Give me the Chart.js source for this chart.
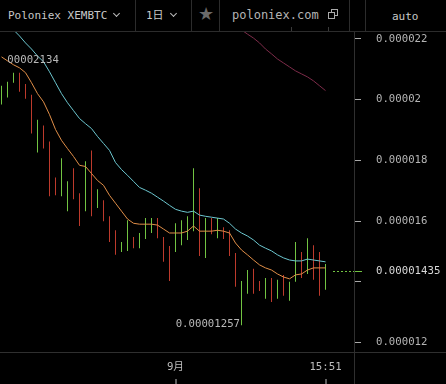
<!DOCTYPE html>
<html>
<head>
<meta charset="utf-8">
<script src="https://cdn.jsdelivr.net/npm/chart.js@4.4.1/dist/chart.umd.min.js"></script>
<style>
  html, body { margin:0; padding:0; background:#000; }
  #wrap { position:relative; width:446px; height:384px; overflow:hidden; background:#000; }
  canvas { position:absolute; left:0; top:0; }
  .tb { position:absolute; left:0; top:0; width:446px; height:31px; border-bottom:1px solid #2c2c2c; background:#000; }
  .sep { position:absolute; top:0; width:1px; height:31px; background:#2c2c2c; }
  .t { position:absolute; font-family:"DejaVu Sans Mono","Noto Sans CJK SC",monospace; white-space:nowrap; line-height:1; }
  .chev { position:absolute; width:4px; height:4px; border-right:1.3px solid #bbb; border-bottom:1.3px solid #bbb; transform:rotate(45deg); }
  .stub { position:absolute; top:27px; width:1px; height:4px; background:#3a3a3a; }
</style>
</head>
<body>
<div id="wrap">
  <canvas id="c" width="446" height="384"></canvas>
  <div class="tb">
    <div class="t" style="left:8px;top:10px;font-size:11px;color:#c8c8c8;">Poloniex XEMBTC</div>
    <div class="chev" style="left:114px;top:11px;"></div>
    <div class="sep" style="left:135px;"></div>
    <div class="t" style="left:146px;top:10px;font-size:11px;color:#c8c8c8;">1日</div>
    <div class="chev" style="left:171px;top:11px;"></div>
    <div class="sep" style="left:191px;"></div>
    <div class="t" style="left:198px;top:5px;font-size:18px;color:#6a6a6a;font-family:'DejaVu Sans',sans-serif;">★</div>
    <div class="sep" style="left:219px;"></div>
    <div class="t" style="left:232px;top:9px;font-size:12px;color:#b4b4b4;">poloniex.com</div>
    <div style="position:absolute;left:331px;top:9px;width:5px;height:5px;border:1px solid #aaa;"></div>
    <div style="position:absolute;left:328px;top:12px;width:5px;height:5px;border:1px solid #aaa;background:#000;"></div>
    <div class="sep" style="left:349px;"></div>
    <div class="sep" style="left:365px;"></div>
    <div class="t" style="left:392px;top:11px;font-size:11px;color:#c8c8c8;">auto</div>
    <div class="stub" style="left:291px;"></div>
    <div class="stub" style="left:328px;"></div>
  </div>
</div>
<script>
// prices in satoshi (1e-8 BTC), one daily bar per entry
const barHighs = [2046,2059,2089,2089,2052,2016,1934,1915,1862,1744,1807,1731,1774,1692,1797,1833,1705,1669,1616,1570,1531,1603,1548,1561,1610,1610,1610,1548,1518,1593,1603,1616,1774,1708,1610,1610,1610,1580,1570,1495,1403,1439,1443,1403,1413,1413,1407,1423,1400,1531,1498,1544,1521,1498,1459];
const barLows  = [1984,2007,2056,2026,2003,1889,1826,1839,1682,1685,1682,1633,1672,1584,1633,1616,1643,1600,1531,1489,1498,1502,1511,1511,1541,1561,1544,1466,1403,1498,1521,1538,1567,1485,1479,1557,1544,1541,1485,1384,1257,1361,1361,1370,1344,1334,1344,1354,1338,1400,1413,1426,1407,1354,1374];
const barUp    = [1,1,1,0,0,0,1,0,0,0,1,1,0,0,1,0,1,0,0,0,1,1,0,1,1,1,0,0,0,1,1,1,1,0,1,0,1,0,0,0,1,1,0,0,1,0,1,0,1,1,0,1,0,0,1];
const maSlow   = [2272,2249,2230,2210,2187,2167,2144,2125,2092,2056,2020,1990,1964,1938,1921,1905,1879,1856,1833,1793,1770,1751,1731,1711,1702,1692,1679,1666,1652,1639,1633,1629,1633,1620,1616,1613,1610,1607,1593,1574,1561,1551,1538,1521,1511,1502,1489,1479,1472,1469,1469,1475,1472,1469,1466];
const maFast   = [2141,2128,2115,2105,2089,2056,2020,1993,1951,1902,1866,1839,1813,1784,1780,1757,1734,1718,1685,1659,1633,1607,1593,1590,1590,1590,1587,1574,1561,1561,1561,1567,1584,1567,1567,1567,1570,1567,1561,1528,1505,1489,1472,1456,1446,1439,1426,1416,1410,1423,1426,1439,1446,1446,1446];
const maLong   = [null,null,null,null,null,null,null,null,null,null,null,null,null,null,null,null,null,null,null,null,null,null,null,null,null,null,null,null,null,null,null,null,null,null,null,null,null,null,null,null,2230,2216,2203,2187,2167,2151,2134,2121,2108,2095,2085,2075,2062,2046,2030];
const priceTicks = [1200,1400,1600,1800,2000,2200];
const priceTickLabels = ['0.000012','','0.000016','0.000018','0.00002','0.000022'];
const timeTickIndex = [29,54];
const timeTickLabels = ['9月','15:51'];
const lastPrice = 1435;
const lastPriceLabel = '0.00001435';
const highMark = 2134, highMarkLabel = '0.00002134', highMarkIndex = -1;
const lowMark = 1257, lowMarkLabel = '0.00001257', lowMarkIndex = 40;

const GREEN = '#72c442', RED = '#bd3a2c';
const FONT = '"DejaVu Sans Mono","Noto Sans CJK SC",monospace';

const idx = barHighs.map((_, i) => i);

const overlay = {
  id: 'overlay',
  afterDraw(chart) {
    const ctx = chart.ctx, ca = chart.chartArea;
    const xs = chart.scales.x, ys = chart.scales.y;
    ctx.save();
    ctx.strokeStyle = '#2f2f2f';
    ctx.lineWidth = 1;
    ctx.beginPath();
    ctx.moveTo(ca.right + 0.5, 31); ctx.lineTo(ca.right + 0.5, 384);
    ctx.moveTo(0, ca.bottom + 0.5); ctx.lineTo(446, ca.bottom + 0.5);
    ctx.stroke();
    // time tick marks at bottom
    ctx.strokeStyle = '#bbbbbb';
    ctx.beginPath();
    timeTickIndex.forEach(v => {
      const px = Math.round(xs.getPixelForValue(v)) - 0.5;
      ctx.moveTo(px + 0.5, 379); ctx.lineTo(px + 0.5, 384);
    });
    ctx.stroke();
    // last price line
    const ly = Math.round(ys.getPixelForValue(lastPrice)) + 0.5;
    ctx.strokeStyle = GREEN;
    ctx.setLineDash([2, 2]);
    ctx.beginPath();
    ctx.moveTo(ca.right - 21, ly); ctx.lineTo(ca.right, ly);
    ctx.stroke();
    ctx.setLineDash([]);
    ctx.beginPath();
    ctx.moveTo(ca.right + 1, ly); ctx.lineTo(ca.right + 8, ly);
    ctx.stroke();
    ctx.font = '10.7px ' + FONT;
    ctx.fillStyle = '#d8d8d8';
    ctx.textBaseline = 'middle';
    ctx.textAlign = 'left';
    ctx.fillText(lastPriceLabel, ca.right + 22, ly);
    // high / low marks
    ctx.fillStyle = '#b8b8b8';
    ctx.save();
    ctx.beginPath(); ctx.rect(7, ca.top, ca.right - 7, ca.bottom - ca.top); ctx.clip();
    ctx.textAlign = 'left';
    ctx.fillText(highMarkLabel, xs.getPixelForValue(highMarkIndex) - 1, ys.getPixelForValue(highMark) + 1);
    ctx.textAlign = 'right';
    ctx.fillText(lowMarkLabel, xs.getPixelForValue(lowMarkIndex) - 1.5, ys.getPixelForValue(lowMark) - 1);
    ctx.restore();
    ctx.restore();
  }
};

new Chart(document.getElementById('c'), {
  type: 'bar',
  data: {
    datasets: [
      { type: 'line', label: 'MA long', data: idx.map(i => ({x: i, y: maLong[i]})), borderColor: '#7e2c4a', borderWidth: 1, pointRadius: 0, tension: 0, order: 1 },
      { type: 'line', label: 'MA slow', data: idx.map(i => ({x: i, y: maSlow[i]})), borderColor: '#6cc6cf', borderWidth: 1, pointRadius: 0, tension: 0, order: 1 },
      { type: 'line', label: 'MA fast', data: idx.map(i => ({x: i, y: maFast[i]})), borderColor: '#e08e48', borderWidth: 1, pointRadius: 0, tension: 0, order: 1 },
      { type: 'bar', label: 'XEMBTC', data: idx.map(i => ({x: i, y: [barLows[i], barHighs[i]]})),
        backgroundColor: idx.map(i => barUp[i] ? GREEN : RED), borderWidth: 0, barThickness: 1, inflateAmount: 0, order: 2 }
    ]
  },
  options: {
    responsive: false,
    animation: false,
    devicePixelRatio: 1,
    layout: { padding: { top: 32, left: 0, right: 0, bottom: 0 }, autoPadding: false },
    plugins: { legend: { display: false }, tooltip: { enabled: false } },
    scales: {
      x: {
        type: 'linear', min: -0.25, max: 58.75, offset: false,
        grid: { display: false, drawTicks: false },
        border: { display: false },
        afterBuildTicks: s => { s.ticks = timeTickIndex.map(v => ({ value: v })); },
        afterFit: s => { s.height = 32; },
        ticks: {
          autoSkip: false, maxRotation: 0, minRotation: 0, padding: 9,
          color: '#bdbdbd', font: { family: FONT, size: 10.7 },
          callback: v => timeTickLabels[timeTickIndex.indexOf(v)]
        }
      },
      y: {
        position: 'right', min: 1169, max: 2223,
        grid: { drawOnChartArea: false, drawTicks: true, tickLength: 7, color: '#aaaaaa' },
        border: { display: false },
        afterBuildTicks: s => { s.ticks = priceTicks.map(v => ({ value: v })); },
        afterFit: s => { s.width = 92; },
        ticks: {
          padding: 15, color: '#b4b4b4', font: { family: FONT, size: 10.7 },
          callback: v => priceTickLabels[priceTicks.indexOf(v)]
        }
      }
    }
  },
  plugins: [overlay]
});
</script>
</body>
</html>
